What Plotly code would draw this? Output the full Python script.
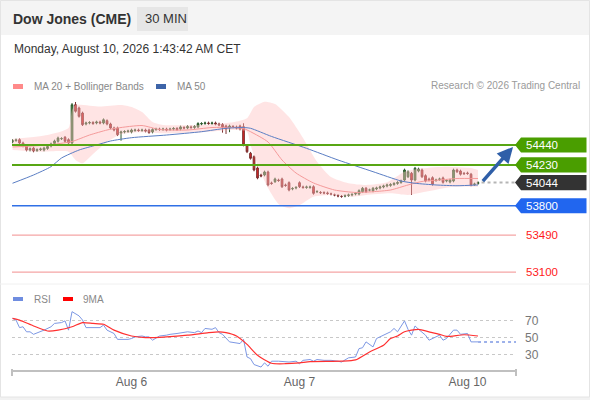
import plotly.graph_objects as go

# 30 min bars, index 0 = Aug 5 07:00 CET, last index = Aug 10 01:30
OPEN = [54472, 54487, 54496, 54461, 54429, 54387, 54408, 54382, 54391, 54387,
        54403, 54429, 54456, 54479, 54506, 54521, 54496, 54461, 54864, 54830,
        54777, 54661, 54672, 54677, 54672, 54682, 54672, 54696, 54661, 54619,
        54619, 54566, 54577, 54582, 54577, 54593, 54598, 54593, 54598, 54598,
        54577, 54603, 54608, 54603, 54608, 54603, 54608, 54614, 54608, 54624,
        54619, 54630, 54624, 54630, 54661, 54666, 54672, 54666, 54672, 54661,
        54656, 54640, 54619, 54635, 54630, 54640, 54633, 54433, 54353, 54317,
        54198, 54124, 54124, 54156, 54040, 54054, 54071, 54082, 54019, 54043,
        53977, 53987, 54043, 53998, 53993, 53993, 54001, 53948, 53940, 53938,
        53935, 53924, 53914, 53908, 53898, 53903, 53908, 53914, 53924, 53924,
        53948, 53984, 53966, 53956, 53977, 53987, 53998, 54008, 54014, 54024,
        54035, 54045, 54071, 54106, 54142, 54071, 54166, 54177, 54117, 54082,
        54096, 54066, 54077, 54093, 54061, 54050, 54061, 54177, 54166, 54142,
        54145, 54132, 54024, 54035]
CLOSE = [54487, 54493, 54461, 54429, 54387, 54401, 54377, 54391, 54398, 54408,
         54424, 54451, 54482, 54514, 54508, 54479, 54461, 54864, 54795, 54742,
         54654, 54672, 54677, 54666, 54682, 54672, 54706, 54661, 54619, 54598,
         54548, 54577, 54582, 54587, 54598, 54598, 54593, 54598, 54587, 54572,
         54603, 54608, 54603, 54608, 54598, 54608, 54614, 54603, 54630, 54619,
         54635, 54624, 54635, 54666, 54666, 54672, 54666, 54672, 54661, 54651,
         54630, 54608, 54640, 54630, 54619, 54608, 54440, 54369, 54300, 54177,
         54093, 54114, 54156, 54019, 54035, 54082, 54066, 54001, 54014, 53966,
         53982, 53993, 54001, 53993, 53998, 53998, 53931, 53950, 53938, 53935,
         53929, 53924, 53914, 53903, 53898, 53906, 53914, 53919, 53929, 53959,
         53984, 53948, 53966, 53984, 53987, 53998, 54008, 54019, 54024, 54035,
         54045, 54061, 54177, 54159, 54071, 54195, 54187, 54106, 54061, 54071,
         54026, 54071, 54082, 54047, 54066, 54071, 54177, 54159, 54132, 54138,
         54140, 54019, 54029, 54044]
HIGH = [54501, 54507, 54510, 54475, 54443, 54415, 54422, 54405, 54412, 54422,
        54438, 54465, 54496, 54528, 54522, 54535, 54510, 54882, 54893, 54844,
        54791, 54686, 54691, 54691, 54696, 54696, 54720, 54710, 54675, 54633,
        54633, 54591, 54596, 54601, 54612, 54612, 54612, 54612, 54612, 54612,
        54617, 54622, 54622, 54622, 54622, 54622, 54628, 54628, 54644, 54638,
        54649, 54644, 54649, 54680, 54680, 54686, 54686, 54686, 54686, 54675,
        54670, 54654, 54654, 54649, 54644, 54654, 54669, 54447, 54367, 54331,
        54212, 54138, 54170, 54170, 54054, 54096, 54085, 54096, 54033, 54057,
        53996, 54007, 54057, 54012, 54012, 54012, 54015, 53964, 53954, 53952,
        53949, 53938, 53928, 53922, 53912, 53920, 53928, 53933, 53943, 53973,
        53998, 53998, 53980, 53998, 54001, 54012, 54022, 54033, 54038, 54049,
        54059, 54075, 54191, 54173, 54156, 54209, 54201, 54191, 54131, 54096,
        54110, 54085, 54096, 54107, 54080, 54085, 54191, 54191, 54180, 54156,
        54159, 54146, 54043, 54058]
LOW = [54458, 54473, 54447, 54415, 54373, 54373, 54363, 54368, 54377, 54373,
       54389, 54415, 54442, 54465, 54492, 54465, 54447, 54447, 54781, 54728,
       54640, 54647, 54658, 54652, 54658, 54658, 54658, 54647, 54605, 54584,
       54534, 54485, 54563, 54568, 54563, 54579, 54579, 54579, 54573, 54558,
       54563, 54589, 54589, 54589, 54584, 54589, 54594, 54589, 54594, 54605,
       54605, 54610, 54610, 54616, 54647, 54652, 54652, 54652, 54647, 54637,
       54570, 54556, 54575, 54616, 54605, 54594, 54426, 54355, 54286, 54163,
       54079, 54100, 54110, 54005, 54021, 54040, 54052, 53987, 54000, 53952,
       53963, 53973, 53987, 53979, 53979, 53979, 53917, 53934, 53924, 53921,
       53915, 53910, 53900, 53889, 53884, 53889, 53894, 53900, 53910, 53910,
       53934, 53934, 53952, 53942, 53963, 53973, 53984, 53994, 54000, 54010,
       54021, 54031, 54057, 54092, 53914, 54057, 54152, 54092, 54047, 54057,
       54012, 54052, 54063, 54033, 54047, 54036, 54047, 54145, 54118, 54124,
       54126, 54005, 54010, 54021]

# indicators (bar index, value)
MA20_X = [0, 10, 17, 22, 27, 30, 37, 42, 50, 57, 63, 66, 68, 73, 77, 81, 86,
          92, 98, 103, 108, 113, 117, 122, 127, 133]
MA20 = [54419, 54440, 54477, 54545, 54598, 54619, 54645, 54603, 54598, 54624,
        54624, 54614, 54580, 54472, 54282, 54145, 54040, 53966, 53940, 53948,
        53966, 54019, 54056, 54071, 54087, 54087]
BBU_X = [0, 10, 16, 17, 18, 25, 31, 34, 37, 40, 43, 54, 63, 67, 69, 72, 75, 79,
         83, 87, 91, 96, 101, 107, 112, 117, 124, 131, 133]
BBU = [54503, 54545, 54619, 54809, 54861, 54845, 54861, 54840, 54787, 54682,
       54651, 54651, 54679, 54721, 54840, 54896, 54872, 54735, 54514, 54264,
       54103, 54037, 54019, 54047, 54159, 54195, 54212, 54198, 54177]
BBL_X = [0, 8, 16, 18, 20, 23, 27, 31, 36, 44, 54, 63, 67, 68, 70, 73, 76, 79,
         82, 86, 91, 97, 101, 108, 113, 118, 126, 133]
BBL = [54387, 54369, 54369, 54282, 54247, 54345, 54472, 54553, 54574, 54563,
       54574, 54598, 54580, 54440, 54229, 53987, 53819, 53774, 53808, 53896,
       53914, 53896, 53914, 53931, 53914, 53948, 54001, 54001]
MA50_X = [0, 6, 11, 14, 19, 24, 28, 34, 44, 54, 61, 66, 68, 74, 84, 93, 103,
          111, 115, 121, 127, 133]
MA50 = [54037, 54124, 54212, 54303, 54387, 54440, 54482, 54517, 54545, 54580,
        54616, 54624, 54616, 54530, 54405, 54282, 54159, 54061, 54037, 54019,
        54011, 54019]

RSI_X = [0, 1, 2, 3, 4, 5, 6, 8, 9, 11, 12, 14, 15, 16, 17, 19, 20, 21, 23, 25,
         26, 27, 29, 30, 33, 34, 35, 37, 38, 39, 40, 42, 44, 45, 47, 49, 50, 52,
         53, 54, 55, 57, 58, 59, 60, 62, 64, 65, 66, 67, 68, 69, 71, 72, 73, 74,
         76, 79, 81, 82, 83, 85, 86, 87, 89, 91, 93, 94, 96, 98, 99, 100, 101,
         103, 104, 106, 108, 109, 110, 112, 113, 114, 115, 116, 118, 119, 121,
         122, 123, 124, 126, 127, 128, 130, 131, 133]
RSI = [73, 71, 62, 63, 57, 57, 54, 57, 59, 63, 67, 68, 70, 59, 81, 76, 71, 62,
       62, 62, 65, 59, 55, 48, 48, 49, 51, 52, 51, 51, 47, 52, 53, 54, 55, 56,
       57, 56, 58, 56, 61, 60, 62, 56, 54, 45, 44, 43, 48, 27, 25, 18, 15, 20,
       16, 22, 22, 21, 22, 19, 23, 24, 22, 24, 23, 23, 22, 21, 26, 27, 37, 38,
       45, 39, 49, 53, 57, 61, 57, 70, 60, 53, 64, 60, 53, 47, 51, 53, 47, 49,
       59, 59, 54, 55, 45, 45]
MA9_X = [0, 2, 6, 10, 13, 17, 20, 23, 26, 29, 34, 38, 44, 50, 56, 59, 61, 64,
         67, 70, 74, 78, 82, 85, 94, 98, 102, 106, 108, 110, 112, 116, 119, 122,
         124, 129, 133]
MA9 = [73, 71, 64, 58, 59, 63, 68, 67, 66, 59, 52, 50, 51, 53, 56, 57, 56, 52,
       42, 29, 19.5, 19, 20, 21.5, 22, 23.5, 33, 41, 49, 52, 57, 60, 57, 54,
       51.5, 53.5, 52]

TICK_POS = [34, 82, 130]
TICK_TEXT = ["Aug 6", "Aug 7", "Aug 10"]

LEVELS = [54440, 54230, 54044, 53800, 53490, 53100]
LEVEL_KIND = ["res", "res", "last", "pivot", "sup", "sup"]
ARROW_TARGET = 54420
RSI_LEVELS = [30, 50, 70]

W, H = 590, 400
FONT = "Liberation Sans, Arial, sans-serif"
X_RANGE = [-0.15, 143.85]
P_RANGE = [52997, 54935]
P_TOP, P_BOT = 98, 282
R_RANGE = [11.5, 94.9]


def px(x):
    return x / W


def py(y):
    return 1 - y / H


fig = go.Figure()

fig.add_trace(go.Scatter(x=BBU_X, y=BBU, mode="lines", line=dict(width=0, shape="spline", smoothing=0.6),
                         hoverinfo="skip"))
fig.add_trace(go.Scatter(x=BBL_X, y=BBL, mode="lines", line=dict(width=0, shape="spline", smoothing=0.6),
                         fill="tonexty", fillcolor="rgba(255,190,190,0.42)", hoverinfo="skip"))
fig.add_trace(go.Scatter(x=MA20_X, y=MA20, mode="lines",
                         line=dict(color="#f59a9a", width=1, shape="spline", smoothing=0.6)))
fig.add_trace(go.Scatter(x=MA50_X, y=MA50, mode="lines",
                         line=dict(color="#5a7ec4", width=1, shape="spline", smoothing=0.6)))

fig.add_trace(go.Candlestick(
    x=list(range(len(CLOSE))), open=OPEN, high=HIGH, low=LOW, close=CLOSE,
    increasing=dict(line=dict(color="#2f5a2f", width=1), fillcolor="#3b8a3b"),
    decreasing=dict(line=dict(color="#7a3030", width=1), fillcolor="#e32222"),
    whiskerwidth=0,
))

# last price projection
fig.add_trace(go.Scatter(x=[len(CLOSE), X_RANGE[1]], y=[LEVELS[2], LEVELS[2]], mode="lines",
                         line=dict(color="#b5b5b5", width=2, dash="dot")))

fig.add_trace(go.Scatter(x=RSI_X, y=RSI, mode="lines", yaxis="y2",
                         line=dict(color="#7d98e4", width=1)))
fig.add_trace(go.Scatter(x=[RSI_X[-1], X_RANGE[1]], y=[RSI[-1], RSI[-1]], mode="lines", yaxis="y2",
                         line=dict(color="#7d98e4", width=1.5, dash="dot")))
fig.add_trace(go.Scatter(x=MA9_X, y=MA9, mode="lines", yaxis="y2",
                         line=dict(color="#ff3030", width=1.2, shape="spline", smoothing=0.6)))

shapes = [
    dict(type="rect", xref="paper", yref="paper", x0=0, x1=1, y0=py(35), y1=1,
         fillcolor="#f4f4f4", line_width=0, layer="below"),
    dict(type="rect", xref="paper", yref="paper", x0=0, x1=1, y0=0, y1=py(397),
         fillcolor="#f2f2f2", line_width=0, layer="below"),
    dict(type="rect", xref="paper", yref="paper", x0=px(0.5), x1=px(589.5), y0=py(397), y1=py(0.5),
         line=dict(color="#e4e4e4", width=1), layer="below"),
    dict(type="rect", xref="paper", yref="paper", x0=px(137), x1=px(188), y0=py(31), y1=py(7),
         fillcolor="#e6e6e6", line_width=0, layer="below"),
    dict(type="line", xref="paper", yref="paper", x0=0, x1=1, y0=py(284), y1=py(284),
         line=dict(color="#f0f0f0", width=1), layer="below"),
    # legend swatches
    dict(type="rect", xref="paper", yref="paper", x0=px(13), x1=px(23), y0=py(89), y1=py(84),
         fillcolor="#ff8a8a", line_width=0),
    dict(type="rect", xref="paper", yref="paper", x0=px(156), x1=px(166), y0=py(89), y1=py(84),
         fillcolor="#3d64a8", line_width=0),
    dict(type="rect", xref="paper", yref="paper", x0=px(13), x1=px(23), y0=py(301), y1=py(297),
         fillcolor="#6f8de0", line_width=0),
    dict(type="rect", xref="paper", yref="paper", x0=px(63), x1=px(73), y0=py(301), y1=py(297),
         fillcolor="#ff0000", line_width=0),
    # axis end ticks
    dict(type="line", xref="paper", yref="paper", x0=px(12), x1=px(12), y0=py(369), y1=py(376),
         line=dict(color="#c0c0c0", width=2)),
    dict(type="line", xref="paper", yref="paper", x0=px(516), x1=px(516), y0=py(369), y1=py(376),
         line=dict(color="#c0c0c0", width=2)),
]

annotations = [
    dict(text="<b>Dow Jones (CME)</b>", x=px(11), y=py(19), font=dict(size=14, color="#333")),
    dict(text="30 MIN", x=px(143), y=py(19), font=dict(size=13, color="#333")),
    dict(text="Monday, August 10, 2026 1:43:42 AM CET", x=px(12), y=py(49),
         font=dict(size=12, color="#333")),
    dict(text="MA 20 + Bollinger Bands", x=px(32), y=py(86.5), font=dict(size=10, color="#888")),
    dict(text="MA 50", x=px(175), y=py(86.5), font=dict(size=10, color="#888")),
    dict(text="RSI", x=px(32), y=py(299), font=dict(size=10, color="#888")),
    dict(text="9MA", x=px(81), y=py(299), font=dict(size=10, color="#888")),
    dict(text="Research © 2026 Trading Central", x=px(582), y=py(86), xanchor="right",
         font=dict(size=10, color="#9a9a9a")),
]
for a in annotations:
    a.update(xref="paper", yref="paper", showarrow=False, yanchor="middle",
             xanchor=a.get("xanchor", "left"))

unit = (P_RANGE[1] - P_RANGE[0]) / (P_BOT - P_TOP)
half = 7.6 * unit
tag_color = {"res": "#4a9e00", "last": "#333333", "pivot": "#2166ef"}
line_style = {"res": ("#58a614", 2), "pivot": ("#3070e6", 1.5), "sup": ("#f5a5a5", 1.3)}
x_tip, x_flat, x_end = px(515), px(521), px(586.5)

for lv, kind in zip(LEVELS, LEVEL_KIND):
    if kind in line_style:
        c, w = line_style[kind]
        shapes.append(dict(type="line", xref="paper", yref="y", x0=px(12), x1=px(516), y0=lv, y1=lv,
                           line=dict(color=c, width=w)))
    if kind in tag_color:
        shapes.append(dict(type="path", xref="paper", yref="y", fillcolor=tag_color[kind], line_width=0,
                           path=f"M {x_tip},{lv} L {x_flat},{lv + half} L {x_end},{lv + half} "
                                f"L {x_end},{lv - half} L {x_flat},{lv - half} Z"))
        col = "white"
    else:
        col = "#ff1a1a"
    annotations.append(dict(text=str(lv), xref="paper", yref="y", x=px(524), y=lv, xanchor="left",
                            yanchor="middle", showarrow=False, font=dict(size=11.5, color=col)))

annotations.append(dict(text="", x=143, y=ARROW_TARGET, ax=len(CLOSE), ay=CLOSE[-1],
                        xref="x", yref="y", axref="x", ayref="y", showarrow=True,
                        arrowhead=2, arrowsize=0.9, arrowwidth=3.5, arrowcolor="#2f5fa8"))

fig.update_layout(
    width=W, height=H,
    margin=dict(l=0, r=0, t=0, b=0),
    paper_bgcolor="white", plot_bgcolor="rgba(0,0,0,0)",
    font=dict(family=FONT),
    showlegend=False,
    hovermode=False,
    shapes=shapes,
    annotations=annotations,
    xaxis=dict(domain=[px(12), px(516)], range=X_RANGE, anchor="y2",
               showline=True, linecolor="#c0c0c0", linewidth=2,
               tickvals=TICK_POS, ticktext=TICK_TEXT, ticks="",
               tickfont=dict(size=12, color="#666"),
               showgrid=False, zeroline=False, rangeslider=dict(visible=False)),
    yaxis=dict(domain=[py(P_BOT), py(P_TOP)], range=P_RANGE, visible=False),
    yaxis2=dict(domain=[py(370), py(300)], range=R_RANGE, side="right", anchor="x",
                tickvals=RSI_LEVELS, ticks="", showgrid=True, gridcolor="#c8c8c8",
                griddash="dot", gridwidth=1, zeroline=False, showline=False,
                ticklabelstandoff=8, tickfont=dict(size=12, color="#777")),
)

# the page body has a default 8px margin; drop it so the figure fills the window
fig.write_html("out.html", config={"displayModeBar": False},
               post_script="document.body.style.margin='0';")
